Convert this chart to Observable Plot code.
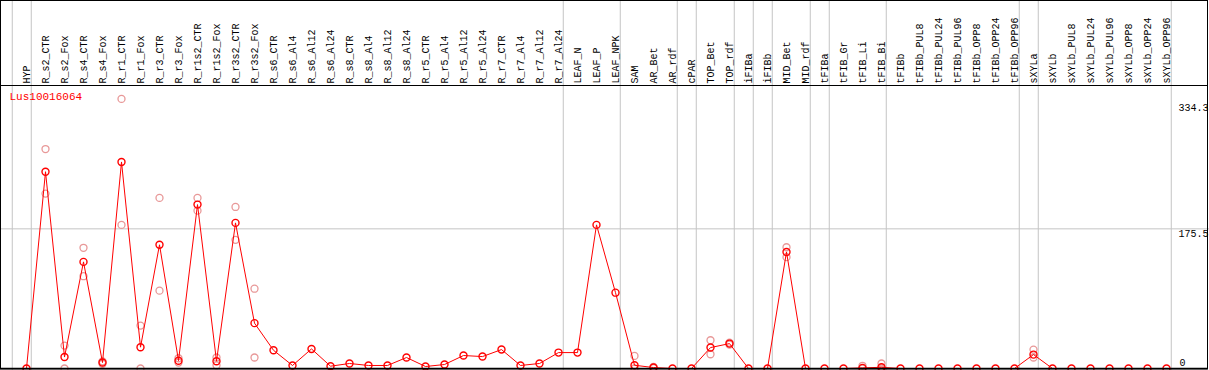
<!DOCTYPE html>
<html><head><meta charset="utf-8">
<script src="https://cdn.jsdelivr.net/npm/d3@7"></script>
<script src="https://cdn.jsdelivr.net/npm/@observablehq/plot@0.6"></script>
<style>
html,body{margin:0;padding:0;background:#fff;}
#chart svg{display:block;}
</style></head><body><div id="chart"></div>
<script>
const gene = "Lus10016064";
const samples = ["HYP","R_s2_CTR","R_s2_Fox","R_s4_CTR","R_s4_Fox","R_r1_CTR","R_r1_Fox","R_r3_CTR","R_r3_Fox","R_r1s2_CTR","R_r1s2_Fox","R_r3s2_CTR","R_r3s2_Fox","R_s6_CTR","R_s6_Al4","R_s6_Al12","R_s6_Al24","R_s8_CTR","R_s8_Al4","R_s8_Al12","R_s8_Al24","R_r5_CTR","R_r5_Al4","R_r5_Al12","R_r5_Al24","R_r7_CTR","R_r7_Al4","R_r7_Al12","R_r7_Al24","LEAF_N","LEAF_P","LEAF_NPK","SAM","AR_Bet","AR_rdf","cPAR","TOP_Bet","TOP_rdf","iFIBa","iFIBb","MID_Bet","MID_rdf","tFIBa","tFIB_Gr","tFIB_Li","tFIB_Bi","tFIBb","tFIBb_PUL8","tFIBb_PUL24","tFIBb_PUL96","tFIBb_OPP8","tFIBb_OPP24","tFIBb_OPP96","sXYLa","sXYLb","sXYLb_PUL8","sXYLb_PUL24","sXYLb_PUL96","sXYLb_OPP8","sXYLb_OPP24","sXYLb_OPP96"];
const groups = ["HYP",
  "R","R","R","R","R","R","R","R","R","R","R","R","R","R","R","R","R","R","R","R","R","R","R","R","R","R","R","R",
  "LEAF","LEAF","LEAF","AR","AR","AR","cPAR","TOP","TOP","iFIBa","iFIBb","MID","MID","tFIBa",
  "tFIB","tFIB","tFIB","tFIBb","tFIBb","tFIBb","tFIBb","tFIBb","tFIBb","tFIBb","sXYLa",
  "sXYLb","sXYLb","sXYLb","sXYLb","sXYLb","sXYLb","sXYLb"];
const means = [0,247.3,14.4,134,7.5,259.6,26.8,155.5,9.8,206,9.2,183,57,22.9,3.8,24.6,2.9,6.3,3.8,3.8,13.8,2.5,5,16.3,15,23.8,3.8,6.3,20,20,180.5,95.3,4.1,1.2,0,0,26.3,31.3,0,0,146.5,0,0,0,0.8,1.5,0,0,0,0,0,0,0,17.5,0,0,0,0,0,0,0];
const repA = [null,275.8,28.8,151.7,9,338.8,53.9,214.4,12.9,214.4,13.8,203,100.3,null,null,null,null,null,null,null,null,null,null,null,null,null,null,null,null,null,null,null,15.8,2,null,null,35.5,32.5,null,null,152.4,null,null,null,3.4,6.3,null,null,null,null,null,null,null,23.8,null,null,null,null,null,null,null];
const repB = [null,219.8,0,116,6,180.5,0,97.8,7.5,198.4,4.1,161.7,13.8,null,null,null,null,null,null,null,null,null,null,null,null,null,null,null,null,null,null,null,0,0.5,null,null,17.9,30,null,null,139.9,null,null,null,0,0,null,null,null,null,null,null,null,13.8,null,null,null,null,null,null,null];
const yTicksTop = [334.3, 175.5];
const yTicksBottom = [0];
const yGrid = [175.5];

const data = samples.map((s, i) => ({i, sample: s, group: groups[i], mean: means[i]}));
const reps = [];
samples.forEach((s, i) => {
  [repA[i], repB[i]].forEach(v => { if (v != null) reps.push({i, value: v}); });
});
const seps = [-0.75];
for (let i = 0; i < groups.length; i++) {
  if (i === groups.length - 1 || groups[i] !== groups[i + 1]) seps.push(i + 0.25);
}

const grid = "#c4c4c4";
const mono = "'Liberation Mono', 'DejaVu Sans Mono', monospace";

const chart = Plot.plot({
  width: 1209, height: 370,
  marginTop: 0, marginRight: 0, marginBottom: 0, marginLeft: 0,
  x: {type: "linear", domain: [0, samples.length - 1], range: [26, 1166], axis: null},
  y: {type: "linear", domain: [0, 334.3], range: [368, 102], axis: null},
  style: {background: "white", fontFamily: mono, fontSize: "10px", overflow: "hidden"},
  marks: [
    Plot.ruleX(seps, {x: d => d, stroke: grid, strokeWidth: 1}),
    Plot.ruleY(yGrid, {y: d => d, stroke: grid, strokeWidth: 1}),
    Plot.text(samples, {x: (d, i) => i, text: d => d, frameAnchor: "top", dy: 83, rotate: -90,
      textAnchor: "start", lineAnchor: "middle", fill: "black"}),
    Plot.text([gene], {text: d => d, frameAnchor: "top-left", dx: 9, dy: 92, lineAnchor: "top",
      fill: "red", fontSize: 11}),
    Plot.text(yTicksTop, {y: d => d, text: d => String(d), frameAnchor: "right", dx: -31, dy: 1,
      textAnchor: "start", lineAnchor: "top", fill: "black"}),
    Plot.text(yTicksBottom, {y: d => d, text: d => String(d), frameAnchor: "right", dx: -30, dy: -3,
      textAnchor: "start", lineAnchor: "bottom", fill: "black"}),
    Plot.dot(reps, {x: "i", y: "value", r: 3.5, stroke: "#e89898", strokeWidth: 1.3, fill: "none"}),
    Plot.line(data, {x: "i", y: "mean", stroke: "red", strokeWidth: 1}),
    Plot.dot(data, {x: "i", y: "mean", r: 3.5, stroke: "red", strokeWidth: 1.4, fill: "none"})
  ]
});

const svg = d3.select(chart);
svg.append("rect").attr("x", 0.5).attr("y", 0.5).attr("width", 1207).attr("height", 368.5)
  .attr("fill", "none").attr("stroke", "black").attr("stroke-width", 1);
svg.append("line").attr("x1", 0).attr("x2", 1207.5).attr("y1", 85.5).attr("y2", 85.5)
  .attr("stroke", "black").attr("stroke-width", 1);
svg.append("line").attr("x1", 0).attr("x2", 1207.5).attr("y1", 368.5).attr("y2", 368.5)
  .attr("stroke", "black").attr("stroke-width", 1.5);
document.getElementById("chart").appendChild(chart);
</script>
</body></html>
